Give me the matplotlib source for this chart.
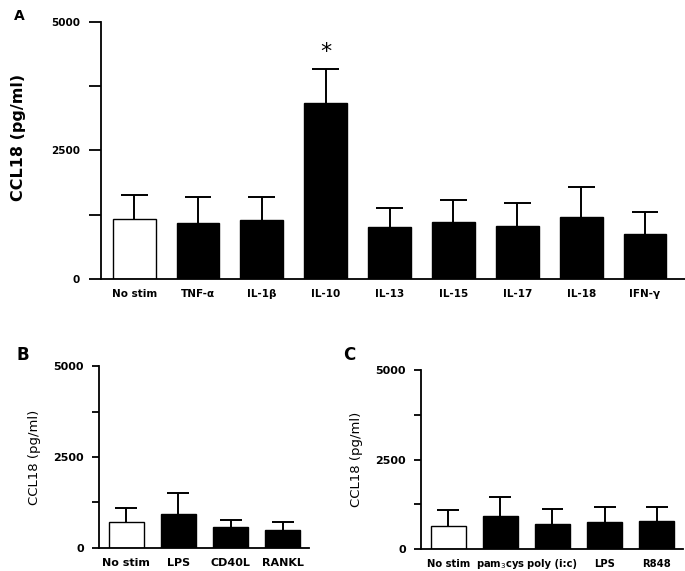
import matplotlib.pyplot as plt
import numpy as np

# panel A: cytokine stimulation
labels_a = ['No stim', 'TNF-α', 'IL-1β', 'IL-10', 'IL-13', 'IL-15', 'IL-17', 'IL-18', 'IFN-γ']
means_a = [1170, 1080, 1140, 3420, 1020, 1100, 1030, 1200, 880]
tops_a = [1630, 1600, 1600, 4090, 1390, 1540, 1470, 1780, 1310]

# panel B
labels_b = ['No stim', 'LPS', 'CD40L', 'RANKL']
means_b = [720, 940, 590, 500]
tops_b = [1090, 1500, 770, 710]

# panel C: TLR ligands
labels_c = ['No stim', 'pam$_3$cys', 'poly (i:c)', 'LPS', 'R848']
means_c = [640, 930, 710, 760, 790]
tops_c = [1080, 1440, 1120, 1160, 1160]

sig_a = 'IL-10'

fig = plt.figure(figsize=(6.85, 5.71), dpi=100)


def bar_panel(ax, labels, means, tops, fs_tick, tick_len):
    x = np.arange(len(labels))
    colors = ['white'] + ['black'] * (len(labels) - 1)
    ax.bar(x, means, width=0.67, color=colors, edgecolor='black', linewidth=1.0, zorder=2)
    # upper error bar only, cap drawn by hand
    ax.vlines(x, means, tops, color='black', linewidth=1.4, zorder=1)
    ax.hlines(tops, x - 0.21, x + 0.21, color='black', linewidth=1.4, zorder=1)
    ax.set_ylim(0, 5000)
    ax.set_xlim(-0.52, len(labels) - 0.5)
    ax.set_yticks([0, 1250, 2500, 3750, 5000])
    ax.set_yticklabels(['0', '', '2500', '', '5000'], fontsize=fs_tick, fontweight='bold')
    ax.set_xticks(x)
    ax.set_xticklabels(labels, fontsize=fs_tick, fontweight='bold')
    ax.tick_params(axis='x', length=0, pad=7)
    ax.tick_params(axis='y', length=tick_len, width=1.3, pad=6)
    for s in ['top', 'right']:
        ax.spines[s].set_visible(False)
    for s in ['left', 'bottom']:
        ax.spines[s].set_linewidth(1.3)
    return x


ax_a = fig.add_axes([0.1474, 0.5114, 0.852, 0.4501])
x_a = bar_panel(ax_a, labels_a, means_a, tops_a, 7.5, 9)
ax_a.set_xlim(-0.52, 8.62)
ax_a.set_ylabel('CCL18 (pg/ml)', fontsize=11.5, fontweight='bold', labelpad=16)
ax_a.yaxis.set_label_coords(-0.128, 0.55)
i = labels_a.index(sig_a)
ax_a.text(x_a[i], tops_a[i] + 330, '*', fontsize=16, ha='center', va='center')

ax_b = fig.add_axes([0.1445, 0.0403, 0.3065, 0.3187])
bar_panel(ax_b, labels_b, means_b, tops_b, 8, 5)
ax_b.set_ylabel('CCL18 (pg/ml)', fontsize=9.5, labelpad=9)

ax_c = fig.add_axes([0.6146, 0.0385, 0.3824, 0.3135])
bar_panel(ax_c, labels_c, means_c, tops_c, 8, 5)
for t in ax_c.get_xticklabels():
    t.set_fontsize(7.2)
ax_c.set_ylabel('CCL18 (pg/ml)', fontsize=9.5, labelpad=9)

fig.text(14 / 685, 1 - 16 / 571, 'A', fontsize=10, fontweight='bold', ha='left', va='center')
fig.text(17 / 685, 1 - 355 / 571, 'B', fontsize=12, fontweight='bold', ha='left', va='center')
fig.text(343 / 685, 1 - 355 / 571, 'C', fontsize=12, fontweight='bold', ha='left', va='center')

fig.savefig('out.png', dpi=100)
